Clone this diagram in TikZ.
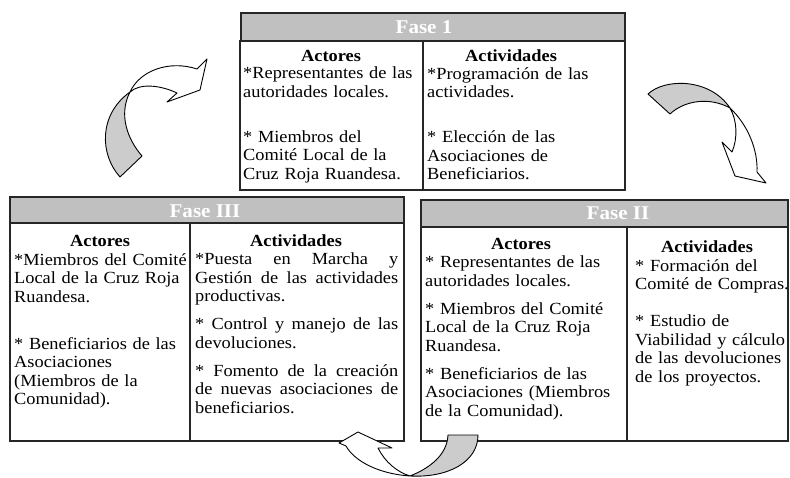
\documentclass[tikz,border=0pt]{standalone}
\usepackage{fontspec}
\setmainfont{Liberation Serif}[FakeStretch=1.08]
\definecolor{hdrgray}{RGB}{192,192,192}
\definecolor{arrgray}{RGB}{204,204,204}
\newcommand\jline[1]{\leavevmode\hbox to 203pt{#1}}
\begin{document}
\begin{tikzpicture}[x=1pt,y=-1pt,
  box/.style={draw=black!85,line width=1.1pt},
  hdr/.style={draw=black!85,line width=1.4pt,fill=hdrgray},
  hdrtxt/.style={font=\fontsize{19.5}{22}\selectfont\bfseries,text=white,inner sep=0},
  ttl/.style={font=\fontsize{17}{18.5}\selectfont\bfseries,inner sep=0},
  body/.style={font=\fontsize{17}{18.5}\selectfont,inner sep=0,anchor=north west,align=left,text width=200pt},
  arr/.style={draw=black,line width=0.9pt,line join=round},
]
\useasboundingbox (0,0) rectangle (790,478);
\fill[white] (0,0) rectangle (790,478);

% ---------- Fase 1 ----------
\draw[hdr] (241,13) rectangle (625,41);
\draw[box] (240,41) rectangle (625,190);
\draw[box] (423,41) -- (423,190);
\node[hdrtxt] (h1) at (424,27) {Fase 1};
\node[ttl] (t1a) at (331,56) {Actores};
\node[ttl] (t1b) at (511,56) {Actividades};
\node[body] (b1a) at (243,67) {*Representantes de las\\ autoridades locales.\\[26.5pt] * Miembros del\\ Comité Local de la\\ Cruz Roja Ruandesa.};
\node[body] (b1b) at (427,67) {*Programación de las\\ actividades.\\[26.5pt] * Elección de las\\ Asociaciones de\\ Beneficiarios.};

% ---------- Fase III ----------
\draw[hdr] (10,197) rectangle (404,223);
\draw[box] (10,223) rectangle (404,441);
\draw[box] (190,223) -- (190,441);
\node[hdrtxt] (h3) at (205,211) {Fase III};
\node[ttl] (t3a) at (100,241) {Actores};
\node[ttl] (t3b) at (296,241) {Actividades};
\node[body] (b3a) at (14,253) {*Miembros del Comité\\ Local de la Cruz Roja\\ Ruandesa.\\[28.5pt] * Beneficiarios de las\\ Asociaciones\\ (Miembros de la\\ Comunidad).};
\node[body,text width=203pt] (b3b) at (195,253) {\jline{*Puesta\hfill en\hfill Marcha\hfill y}\\ \jline{Gestión\hfill de\hfill las\hfill actividades}\\ productivas.\\[9.5pt] \jline{*\hfill Control\hfill y\hfill manejo\hfill de\hfill las}\\ devoluciones.\\[9.5pt] \jline{*\hfill Fomento\hfill de\hfill la\hfill creación}\\ \jline{de\hfill nuevas\hfill asociaciones\hfill de}\\ beneficiarios.};

% ---------- Fase II ----------
\draw[hdr] (421,200) rectangle (788,227);
\draw[box] (421,227) rectangle (788,441);
\draw[box] (627,227) -- (627,441);
\node[hdrtxt] (h2) at (618,213) {Fase II};
\node[ttl] (t2a) at (521,244) {Actores};
\node[ttl] (t2b) at (707,247) {Actividades};
\node[body] (b2a) at (425,256) {* Representantes de las\\ autoridades locales.\\[9.5pt] * Miembros del Comité\\ Local de la Cruz Roja\\ Ruandesa.\\[9.5pt] * Beneficiarios de las\\ Asociaciones (Miembros\\ de la Comunidad).};
\node[body] (b2b) at (635,259) {* Formación del\\ Comité de Compras.\\[18.5pt] * Estudio de\\ Viabilidad y cálculo\\ de las devoluciones\\ de los proyectos.};

% ---------- curved arrows ----------
% left (Fase III -> Fase 1)
\filldraw[arr,fill=arrgray] (120,177) -- (142,156) .. controls (128,140) and (118,115) .. (130,92)
   .. controls (98,115) and (100,155) .. (120,177) -- cycle;
\filldraw[arr,fill=white] (130,92) .. controls (140,70) and (170,60) .. (197,69) -- (207,59) -- (200,90)
   -- (167,102) -- (177,93) .. controls (160,85) and (140,83) .. (130,92) -- cycle;
% right (Fase 1 -> Fase II)
\filldraw[arr,fill=arrgray] (648,94) -- (670,114) .. controls (685,100) and (710,97) .. (730,108)
   .. controls (710,78) and (665,78) .. (648,94) -- cycle;
\filldraw[arr,fill=white] (730,108) .. controls (748,125) and (758,150) .. (757,172) -- (766,183)
   -- (735,176) -- (722,142) -- (732,152) .. controls (738,138) and (737,120) .. (730,108) -- cycle;
% bottom (Fase II -> Fase III)
\filldraw[arr,fill=arrgray] (448,435) -- (478,435) .. controls (478,462) and (448,478) .. (410,476)
   .. controls (430,468) and (447,455) .. (448,435) -- cycle;
\filldraw[arr,fill=white] (410,476) .. controls (380,474) and (355,462) .. (346,446) -- (339,443)
   -- (358,432) -- (392,448) -- (378,448) .. controls (385,462) and (397,472) .. (410,476) -- cycle;
\end{tikzpicture}
\end{document}
